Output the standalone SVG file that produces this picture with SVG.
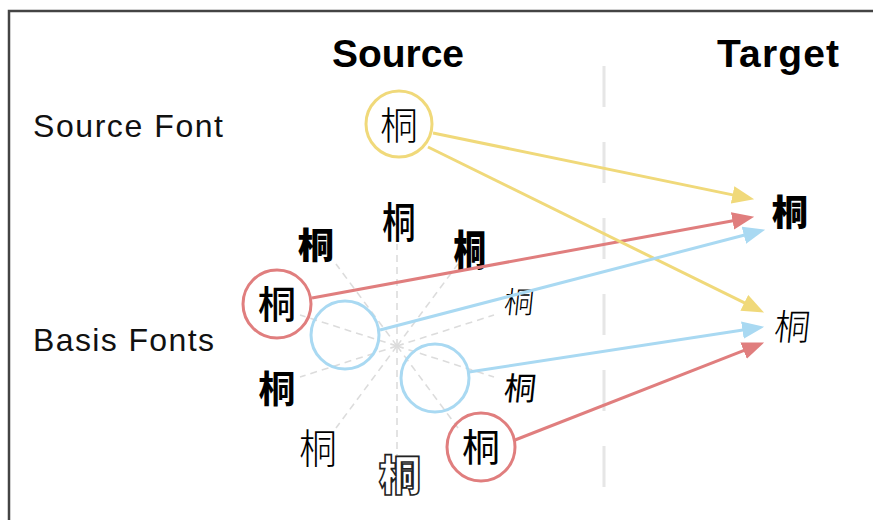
<svg xmlns="http://www.w3.org/2000/svg" width="873" height="520" viewBox="0 0 873 520">
<style>
.hd{font-family:"Liberation Sans",Arial,sans-serif;font-weight:bold;font-size:39px;fill:#000;text-anchor:middle}
.lb{font-family:"Liberation Sans",Arial,sans-serif;font-size:32px;fill:#111}
.g{font-family:"Noto Sans CJK SC","Noto Sans CJK JP",sans-serif;fill:#000;text-anchor:middle}
.outl{fill:#fff;stroke:#222;stroke-width:1.6}
.spoke{stroke:#dcdcdc;stroke-width:1.6;stroke-dasharray:7 5;fill:none}
.ring{fill:none;stroke-width:3}
.y{stroke:#f0d97a}.r{stroke:#e07e7e}.b{stroke:#a9d9f2}
.ln{stroke-width:3;fill:none}
</style>
<defs>
<marker id="ay" markerUnits="userSpaceOnUse" markerWidth="22" markerHeight="18" viewBox="0 0 20 16" refX="8" refY="8" orient="auto"><path d="M0,0L20,8L0,16z" fill="#f0d97a"/></marker>
<marker id="ar" markerUnits="userSpaceOnUse" markerWidth="22" markerHeight="18" viewBox="0 0 20 16" refX="8" refY="8" orient="auto"><path d="M0,0L20,8L0,16z" fill="#e07e7e"/></marker>
<marker id="ab" markerUnits="userSpaceOnUse" markerWidth="22" markerHeight="18" viewBox="0 0 20 16" refX="8" refY="8" orient="auto"><path d="M0,0L20,8L0,16z" fill="#a9d9f2"/></marker>
</defs>
<rect width="873" height="520" fill="#fff"/>
<rect x="9" y="11" width="900" height="540" fill="none" stroke="#444" stroke-width="2.5"/>
<line x1="604" y1="66" x2="604" y2="490" stroke="#e6e6e6" stroke-width="3" stroke-dasharray="41 35"/>

<g id="headers">
<text class="hd" x="398" y="67" textLength="132">Source</text>
<text class="hd" x="778" y="67" textLength="122">Target</text>
</g>
<g id="labels">
<text class="lb" x="33" y="137" textLength="190">Source Font</text>
<text class="lb" x="33" y="351" textLength="181">Basis Fonts</text>
</g>

<g id="spokes">
<line class="spoke" x1="397" y1="346" x2="397" y2="244"/>
<line class="spoke" x1="397" y1="346" x2="458" y2="264"/>
<line class="spoke" x1="397" y1="346" x2="494" y2="315"/>
<line class="spoke" x1="397" y1="346" x2="494" y2="377"/>
<line class="spoke" x1="397" y1="346" x2="458" y2="428"/>
<line class="spoke" x1="397" y1="346" x2="397" y2="455"/>
<line class="spoke" x1="397" y1="346" x2="336" y2="428"/>
<line class="spoke" x1="397" y1="346" x2="300" y2="377"/>
<line class="spoke" x1="397" y1="346" x2="300" y2="315"/>
<line class="spoke" x1="397" y1="346" x2="336" y2="264"/>
</g>

<g id="source-font">
<circle class="ring y" cx="399" cy="124" r="33"/>
<text class="g" x="399" y="139" font-size="38" font-weight="300">桐</text>
</g>

<g id="basis-glyphs">
<text class="g" transform="translate(399,238) scale(0.88,1.1)" font-size="38" font-weight="500">桐</text>
<text class="g" x="316" y="259" font-size="36" font-weight="900">桐</text>
<text class="g" transform="translate(470,266) scale(0.85,1.12)" font-size="38" font-weight="900">桐</text>
<text class="g" transform="translate(518,313) skewX(-6)" font-size="30" font-weight="300">桐</text>
<text class="g" x="277" y="403" font-size="37" font-weight="700">桐</text>
<text class="g" transform="translate(519,400) skewX(-6)" font-size="32" font-weight="400">桐</text>
<text class="g" transform="translate(318,463) scale(1,1.05)" font-size="38" font-weight="300">桐</text>
<text class="g outl" x="400" y="491" font-size="42" font-weight="900">桐</text>
</g>

<g id="basis-red-1">
<circle class="ring r" cx="277" cy="304" r="34"/>
<text class="g" x="277" y="318" font-size="38" font-weight="500">桐</text>
</g>
<g id="basis-blue-1">
<circle class="ring b" cx="345" cy="335" r="34"/>
</g>
<g id="basis-blue-2">
<circle class="ring b" cx="435" cy="378" r="34"/>
</g>
<g id="basis-red-2">
<circle class="ring r" cx="481" cy="447" r="34"/>
<text class="g" x="481" y="461" font-size="38" font-weight="400">桐</text>
</g>

<g id="target-1">
<text class="g" x="790" y="226" font-size="36" font-weight="900">桐</text>
</g>
<g id="target-2">
<text class="g" transform="translate(791,340) skewX(-6)" font-size="36" font-weight="300">桐</text>
</g>

<g id="connectors">
<line class="ln r" x1="312" y1="298" x2="741.2" y2="219.2" marker-end="url(#ar)"/>
<line class="ln y" x1="433" y1="133" x2="741.2" y2="196.6" marker-end="url(#ay)"/>
<line class="ln y" x1="428" y1="147" x2="752.2" y2="306.7" marker-end="url(#ay)"/>
<line class="ln b" x1="380" y1="330" x2="752.4" y2="233" marker-end="url(#ab)"/>
<line class="ln b" x1="469" y1="372" x2="751.1" y2="328.8" marker-end="url(#ab)"/>
<line class="ln r" x1="515" y1="440" x2="751.8" y2="347.4" marker-end="url(#ar)"/>
</g>
</svg>
